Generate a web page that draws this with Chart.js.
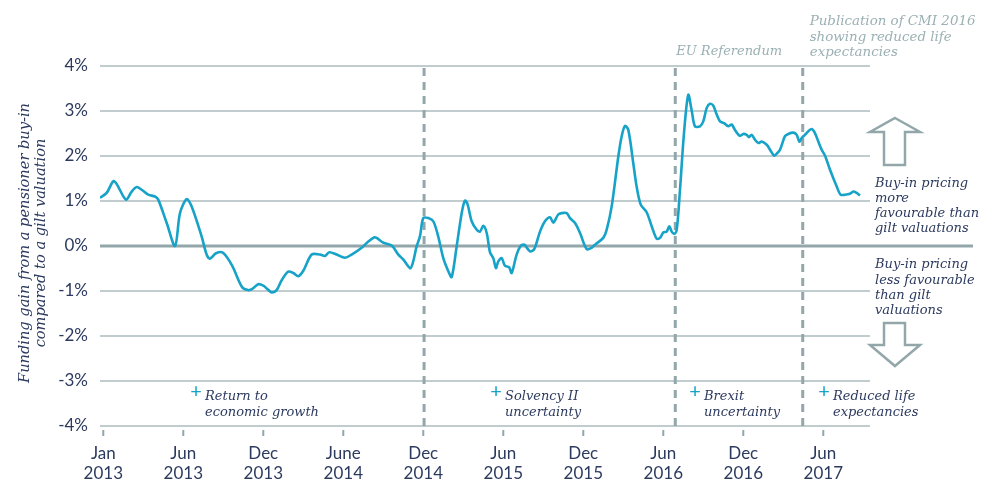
<!DOCTYPE html>
<html>
<head>
<meta charset="utf-8">
<script src="https://cdn.jsdelivr.net/npm/chart.js@4.4.1/dist/chart.umd.min.js"></script>
<style>
  html, body { margin: 0; padding: 0; background: #ffffff; }
  #wrap { width: 982px; height: 482px; position: relative; }
</style>
</head>
<body>
<div id="wrap"><canvas id="c"></canvas></div>
<script>
// ---- Data ----
// x position along the time axis, in half-year steps (0 = Jan 2013, 1 = Jun 2013, ... 9 = Jun 2017)
const periodPos = [
  -0.041, 0.042, 0.125, 0.167, 0.284, 0.355, 0.418, 0.480, 0.562, 0.646,
  0.687, 0.793, 0.897, 0.959, 1.042, 1.105, 1.230, 1.292, 1.333, 1.409,
  1.496, 1.609, 1.734, 1.809, 1.859, 1.937, 2.000, 2.047, 2.105, 2.167,
  2.230, 2.312, 2.375, 2.437, 2.500, 2.605, 2.709, 2.771, 2.825, 2.917,
  3.021, 3.105, 3.230, 3.313, 3.384, 3.417, 3.493, 3.605, 3.688, 3.750,
  3.843, 3.917, 3.959, 4.000, 4.062, 4.125, 4.187, 4.250, 4.313, 4.355,
  4.417, 4.480, 4.521, 4.555, 4.605, 4.668, 4.709, 4.750, 4.793, 4.834,
  4.875, 4.908, 4.938, 4.980, 5.021, 5.072, 5.105, 5.167, 5.221, 5.263,
  5.334, 5.387, 5.459, 5.521, 5.584, 5.625, 5.687, 5.730, 5.793, 5.834,
  5.897, 5.959, 6.043, 6.105, 6.146, 6.250, 6.292, 6.355, 6.438, 6.480,
  6.521, 6.563, 6.625, 6.667, 6.718, 6.792, 6.855, 6.918, 6.959, 7.000,
  7.043, 7.075, 7.105, 7.137, 7.168, 7.209, 7.259, 7.312, 7.355, 7.396,
  7.458, 7.500, 7.543, 7.584, 7.625, 7.668, 7.709, 7.759, 7.813, 7.855,
  7.896, 7.958, 8.000, 8.043, 8.071, 8.105, 8.147, 8.188, 8.230, 8.293,
  8.334, 8.384, 8.417, 8.459, 8.521, 8.562, 8.625, 8.668, 8.700, 8.730,
  8.771, 8.813, 8.855, 8.896, 8.938, 8.980, 9.021, 9.083, 9.168, 9.217,
  9.272, 9.333, 9.375, 9.417, 9.459
];
// funding gain, % of gilt valuation
const fundingGain = [
  1.07, 1.18, 1.44, 1.38, 1.03, 1.21, 1.31, 1.25, 1.14, 1.10,
  1.03, 0.51, 0.00, 0.73, 1.04, 0.88, 0.21, -0.19, -0.28, -0.16,
  -0.15, -0.43, -0.91, -0.98, -0.96, -0.85, -0.88, -0.95, -1.03, -0.98,
  -0.76, -0.57, -0.60, -0.67, -0.55, -0.19, -0.19, -0.22, -0.14, -0.19,
  -0.26, -0.19, -0.04, 0.10, 0.19, 0.18, 0.08, 0.01, -0.19, -0.30,
  -0.49, -0.01, 0.22, 0.62, 0.62, 0.55, 0.21, -0.27, -0.56, -0.69,
  -0.01, 0.73, 1.01, 0.92, 0.55, 0.36, 0.32, 0.45, 0.29, -0.14,
  -0.27, -0.49, -0.34, -0.27, -0.44, -0.47, -0.60, -0.19, 0.01, 0.03,
  -0.12, -0.07, 0.32, 0.55, 0.64, 0.52, 0.70, 0.73, 0.73, 0.62,
  0.51, 0.29, -0.07, -0.04, 0.03, 0.18, 0.36, 0.88, 1.99, 2.44,
  2.67, 2.58, 1.84, 1.32, 0.92, 0.75, 0.44, 0.16, 0.18, 0.30,
  0.32, 0.44, 0.32, 0.27, 0.36, 1.25, 2.51, 3.36, 3.01, 2.66,
  2.66, 2.77, 3.07, 3.16, 3.12, 2.92, 2.77, 2.73, 2.66, 2.70,
  2.58, 2.45, 2.49, 2.47, 2.42, 2.47, 2.36, 2.29, 2.32, 2.25,
  2.14, 2.01, 2.05, 2.14, 2.44, 2.49, 2.52, 2.47, 2.32, 2.40,
  2.47, 2.55, 2.60, 2.51, 2.32, 2.14, 2.01, 1.70, 1.32, 1.14,
  1.14, 1.16, 1.21, 1.18, 1.12
];
const xTickLabels = [
  ["Jan", "2013"], ["Jun", "2013"], ["Dec", "2013"], ["June", "2014"], ["Dec", "2014"],
  ["Jun", "2015"], ["Dec", "2015"], ["Jun", "2016"], ["Dec", "2016"], ["Jun", "2017"]
];
const yTickValues = [-4, -3, -2, -1, 0, 1, 2, 3, 4];
// event markers (dashed lines), same x units as periodPos
const eventPos = [4.01, 7.15, 8.743];
const eventLabels = [[], ["EU Referendum"], ["Publication of CMI 2016", "showing reduced life", "expectancies"]];
const driverLabels = [
  ["Return to", "economic growth"],
  ["Solvency II", "uncertainty"],
  ["Brexit", "uncertainty"],
  ["Reduced life", "expectancies"]
];
const upNote = ["Buy-in pricing", "more", "favourable than", "gilt valuations"];
const downNote = ["Buy-in pricing", "less favourable", "than gilt", "valuations"];
const yTitle = ["Funding gain from a pensioner buy-in", "compared to a gilt valuation"];

// ---- Styles ----
const NAVY = '#2c3a5f';
const LINE = '#17a2c8';
const GREY = '#93a7ab';
const GRID = '#acbbbf';
const SANS = 'Lato, "Open Sans", sans-serif';
const SERIF = '"DejaVu Serif", serif';

const points = periodPos.map((p, i) => ({ x: p, y: fundingGain[i] }));

const overlay = {
  id: 'overlay',
  beforeDatasetsDraw(chart) {
    const { ctx, chartArea: ca, scales: { x, y } } = chart;
    ctx.save();
    yTickValues.forEach(v => {
      const py = y.getPixelForValue(v);
      ctx.beginPath();
      if (v === 0) {
        ctx.lineWidth = 3; ctx.strokeStyle = GREY;
        ctx.moveTo(ca.left, py); ctx.lineTo(973, py);
      } else {
        ctx.lineWidth = 1.4; ctx.strokeStyle = GRID;
        ctx.moveTo(ca.left, py); ctx.lineTo(ca.right, py);
      }
      ctx.stroke();
    });
    ctx.lineWidth = 2; ctx.strokeStyle = GREY;
    xTickLabels.forEach((l, i) => {
      const px = x.getPixelForValue(i);
      ctx.beginPath(); ctx.moveTo(px, ca.bottom + 4); ctx.lineTo(px, ca.bottom + 10); ctx.stroke();
    });
    ctx.setLineDash([8, 6]);
    ctx.lineWidth = 3; ctx.strokeStyle = GREY;
    eventPos.forEach(p => {
      const px = x.getPixelForValue(p);
      ctx.beginPath(); ctx.moveTo(px, ca.top + 2); ctx.lineTo(px, ca.bottom + 4); ctx.stroke();
    });
    ctx.setLineDash([]);
    ctx.restore();
  },
  afterDraw(chart) {
    const { ctx, scales: { x } } = chart;
    ctx.save();
    ctx.textBaseline = 'middle';
    // y-axis title
    ctx.fillStyle = NAVY;
    ctx.font = 'italic 14.6px ' + SERIF;
    ctx.textAlign = 'center';
    [25, 41].forEach((cx, i) => {
      ctx.save(); ctx.translate(cx, 243); ctx.rotate(-Math.PI / 2);
      ctx.fillText(yTitle[i], 0, 0); ctx.restore();
    });
    ctx.textAlign = 'left';
    // event labels (grey)
    ctx.fillStyle = '#9bb0b4';
    ctx.font = 'italic 13px ' + SERIF;
    ctx.fillText(eventLabels[1][0], x.getPixelForValue(eventPos[1]) + 1, 52);
    ctx.font = 'italic 13.4px ' + SERIF;
    eventLabels[2].forEach((t, i) => ctx.fillText(t, x.getPixelForValue(eventPos[2]) + 7, 22 + i * 15.5));
    // driver labels with plus signs
    const driverX = [205, 505, 704, 833];
    driverLabels.forEach((lines, k) => {
      ctx.fillStyle = LINE;
      ctx.font = '20px ' + SANS;
      ctx.textAlign = 'center';
      ctx.fillText('+', driverX[k] - 9, 392);
      ctx.textAlign = 'left';
      ctx.fillStyle = NAVY;
      ctx.font = 'italic 13px ' + SERIF;
      lines.forEach((t, i) => ctx.fillText(t, driverX[k], 397 + i * 16));
    });
    // right notes
    ctx.fillStyle = NAVY;
    ctx.font = 'italic 13px ' + SERIF;
    upNote.forEach((t, i) => ctx.fillText(t, 875, 184 + i * 15));
    downNote.forEach((t, i) => ctx.fillText(t, 875, 265 + i * 15.3));
    // arrows
    ctx.lineWidth = 2.5; ctx.strokeStyle = GREY; ctx.fillStyle = '#fff';
    ctx.beginPath();
    ctx.moveTo(895, 118); ctx.lineTo(920, 132); ctx.lineTo(905, 132); ctx.lineTo(905, 165);
    ctx.lineTo(884, 165); ctx.lineTo(884, 132); ctx.lineTo(870, 132); ctx.closePath();
    ctx.fill(); ctx.stroke();
    ctx.beginPath();
    ctx.moveTo(895, 366); ctx.lineTo(920, 345); ctx.lineTo(905, 345); ctx.lineTo(905, 323);
    ctx.lineTo(884, 323); ctx.lineTo(884, 345); ctx.lineTo(870, 345); ctx.closePath();
    ctx.fill(); ctx.stroke();
    ctx.restore();
  }
};

new Chart(document.getElementById('c'), {
  type: 'line',
  data: {
    datasets: [{
      data: points,
      borderColor: LINE,
      borderWidth: 2.6,
      pointRadius: 0,
      tension: 0.3,
      fill: false
    }]
  },
  options: {
    responsive: true,
    maintainAspectRatio: false,
    animation: false,
    events: [],
    layout: { padding: { top: 66, right: 112, bottom: 0, left: 0 } },
    plugins: { legend: { display: false }, tooltip: { enabled: false } },
    scales: {
      x: {
        type: 'linear',
        min: -0.041,
        max: 9.584,
        grid: { display: false, drawTicks: false },
        border: { display: false },
        afterBuildTicks(scale) { scale.ticks = xTickLabels.map((l, i) => ({ value: i })); },
        afterFit(scale) { scale.height = 56; },
        ticks: {
          autoSkip: false,
          maxRotation: 0,
          padding: 17,
          color: NAVY,
          font: { family: SANS, size: 17, lineHeight: 1.18 },
          callback: (v) => xTickLabels[v]
        }
      },
      y: {
        min: -4,
        max: 4,
        grid: { display: false, drawTicks: false },
        border: { display: false },
        afterBuildTicks(scale) { scale.ticks = yTickValues.map(v => ({ value: v })); },
        afterFit(scale) { scale.width = 100; },
        ticks: {
          padding: 12,
          color: NAVY,
          font: { family: SANS, size: 17 },
          callback: (v) => v + '%'
        }
      }
    }
  },
  plugins: [overlay]
});
</script>
</body>
</html>
